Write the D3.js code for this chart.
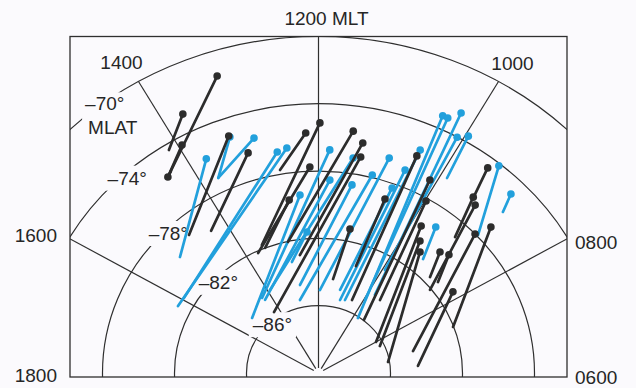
<!DOCTYPE html>
<html>
<head>
<meta charset="utf-8">
<script src="https://cdn.jsdelivr.net/npm/d3@7"></script>
<style>
  html, body { margin: 0; padding: 0; background: #fbfafd; }
  svg { display: block; }
  text { font-family: "Liberation Sans", Arial, Helvetica, sans-serif; fill: #262626; }
</style>
</head>
<body>
<svg id="chart" width="636" height="388"></svg>
<script>
// ---- grid definition ----
const ringLats = [-70, -74, -78, -82, -86];          // MLAT circles
const spokeMlts = [8, 10, 12, 14, 16];                // MLT meridians
const mltTicks = [12, 14, 10, 16, 8, 18, 6];
const mltTickLabels = ["1200 MLT", "1400", "1000", "1600", "0800", "1800", "0600"];
const latTickLabels = ["\u201370\u00b0", "\u201374\u00b0", "\u201378\u00b0", "\u201382\u00b0", "\u201386\u00b0"];

// ---- events: start point (dot) and end point, [MLT, MLAT] ----
const blackStart = [
  [13.18, -71.48], [13.95, -74.48], [14.38, -75.66], [13.74, -72.87], [13.30, -75.06],
  [13.11, -76.35], [12.19, -75.72], [11.98, -75.14], [12.15, -77.75], [12.60, -79.59],
  [11.49, -75.50], [11.32, -76.11], [11.31, -76.95], [10.69, -79.02], [11.23, -81.27],
  [10.47, -75.99], [10.11, -76.97], [9.98, -78.16], [9.79, -79.57], [9.62, -80.34],
  [9.46, -80.86], [9.12, -80.14], [8.94, -79.91], [8.90, -78.01], [8.81, -77.08],
  [8.19, -81.11], [9.49, -74.61], [9.37, -76.47], [9.26, -76.76]
];
const blackEnd = [
  [14.32, -75.53], [14.38, -75.66], [14.29, -75.47], [14.14, -74.36], [14.75, -79.09],
  [14.35, -79.66], [12.67, -77.75], [13.50, -81.77], [13.68, -82.12], [13.45, -82.00],
  [12.82, -82.03], [12.56, -82.92], [14.29, -85.62], [10.79, -83.31], [11.45, -84.36],
  [10.45, -85.28], [9.42, -85.96], [9.45, -84.48], [8.00, -86.31], [7.68, -86.23],
  [6.64, -86.08], [8.84, -81.58], [8.61, -81.44], [6.93, -84.59], [7.34, -82.04],
  [6.29, -84.46], [9.36, -76.52], [9.12, -78.92], [8.57, -82.08]
];
const blueStart = [
  [13.74, -75.83], [13.29, -75.14], [12.96, -75.59], [12.66, -76.67], [12.50, -76.52],
  [11.43, -77.08], [11.37, -78.67], [10.86, -76.64], [10.64, -78.27], [10.38, -73.23],
  [10.31, -73.23], [10.19, -72.64], [10.08, -74.01], [9.96, -73.65], [9.39, -74.13],
  [8.99, -74.92], [9.54, -79.15], [12.37, -79.37], [11.79, -78.52], [10.55, -77.02],
  [11.05, -77.86], [11.82, -76.73], [12.29, -81.60], [10.46, -75.60]
];
const blueEnd = [
  [15.21, -79.67], [13.71, -77.14], [13.71, -77.14], [15.95, -81.30], [16.20, -81.24],
  [13.91, -84.38], [12.74, -84.67], [11.94, -85.07], [11.09, -84.92], [9.74, -86.07],
  [9.95, -84.95], [9.73, -84.40], [9.93, -82.85], [9.89, -76.39], [8.85, -77.93],
  [8.87, -75.98], [9.29, -81.08], [15.23, -85.07], [14.29, -84.74], [10.97, -85.50],
  [12.89, -85.54], [14.34, -84.55], [12.84, -83.24], [10.75, -85.42]
];

// ---- layout ----
const W = 636, H = 388;
const frame = { x0: 70, y0: 36.5, x1: 567, y1: 377 };
const cx = 318.5, cy = 373;
const flatten = 0.935;                  // vertical squash of the polar view

const rScale = d3.scaleLinear().domain([-90, -70]).range([0, 360]);
const aScale = d3.scaleLinear().domain([12, 18]).range([0, Math.PI / 2]); // from noon toward dusk
function project(mlt, mlat) {
  const r = rScale(mlat), a = aScale(mlt);
  return [cx - r * Math.sin(a), cy - flatten * r * Math.cos(a)];
}

const svg = d3.select("#chart");
svg.append("rect").attr("width", W).attr("height", H).attr("fill", "#fbfafd");

svg.append("defs").append("clipPath").attr("id", "frameClip")
  .append("rect")
  .attr("x", frame.x0).attr("y", frame.y0)
  .attr("width", frame.x1 - frame.x0).attr("height", frame.y1 - frame.y0);

const gridColor = "#2f2f2f";
const grid = svg.append("g").attr("clip-path", "url(#frameClip)")
  .attr("fill", "none").attr("stroke", gridColor).attr("stroke-width", 1.2);

grid.selectAll("ellipse.ring").data(ringLats).join("ellipse")
  .attr("class", "ring")
  .attr("cx", cx).attr("cy", cy)
  .attr("rx", d => rScale(d))
  .attr("ry", d => rScale(d) * flatten);

grid.selectAll("line.spoke").data(spokeMlts).join("line")
  .attr("class", "spoke")
  .attr("x1", d => project(d, -70)[0]).attr("y1", d => project(d, -70)[1])
  .attr("x2", d => project(d, -89.7)[0]).attr("y2", d => project(d, -89.7)[1]);

svg.append("rect")
  .attr("x", frame.x0).attr("y", frame.y0)
  .attr("width", frame.x1 - frame.x0).attr("height", frame.y1 - frame.y0)
  .attr("fill", "none").attr("stroke", gridColor).attr("stroke-width", 1.3);

// ---- MLT labels ----
const fs = 19;
const mltLabelPos = {
  12: p => [p[0] + 8, 25, "middle"],
  14: p => [p[0] - 17, p[1] - 12.5, "middle"],
  10: p => [p[0] + 14, p[1] - 11.5, "middle"],
  16: () => [frame.x0 - 13, 242, "end"],
  8:  () => [frame.x1 + 8, 248.5, "start"],
  18: () => [frame.x0 - 13, 382, "end"],
  6:  () => [frame.x1 + 8, 384, "start"]
};
mltTicks.forEach((h, i) => {
  const [x, y, anchor] = mltLabelPos[h](project(h, -70));
  svg.append("text").attr("x", x).attr("y", y).attr("text-anchor", anchor)
    .attr("font-size", fs).text(mltTickLabels[i]);
});

// ---- MLAT labels, each on a cleared patch of its circle ----
const latLabels = svg.append("g");
function clearedLabel(lines, pad) {
  const g = latLabels.append("g");
  const bg = g.append("rect").attr("fill", "#fbfafd");
  const t = g.append("text").attr("font-size", fs);
  lines.forEach(l => t.append("tspan").attr("x", l.x).attr("y", l.y)
    .attr("text-anchor", l.anchor || "middle").text(l.s));
  const bb = t.node().getBBox();
  bg.attr("x", bb.x - pad).attr("y", bb.y + 2 - pad)
    .attr("width", bb.width + 2 * pad).attr("height", bb.height - 4 + 2 * pad);
}
// label offsets from the point at 14.9 MLT on each circle
const latLabelNudge = { [-74]: [7, 7], [-78]: [-1.5, 13.5], [-82]: [-1, 13.5], [-86]: [3.5, 7] };
ringLats.forEach((lat, i) => {
  if (lat === -70) {
    const p = project(14.45, lat);
    clearedLabel([
      { s: latTickLabels[i], x: p[0] - 18, y: p[1] + 7, anchor: "start" },
      { s: "MLAT", x: p[0] - 15, y: p[1] + 31, anchor: "start" }
    ], 3);
  } else {
    const p = project(14.9, lat), n = latLabelNudge[lat];
    clearedLabel([{ s: latTickLabels[i], x: p[0] + n[0], y: p[1] + n[1] }], 4);
  }
});

// ---- event tracks ----
const blue = "#22a0dc", black = "#2c2c2c";
function drawTracks(starts, ends, color) {
  const g = svg.append("g");
  const data = starts.map((s, i) => ({ a: project(s[0], s[1]), b: project(ends[i][0], ends[i][1]) }));
  g.selectAll("line").data(data).join("line")
    .attr("x1", d => d.a[0]).attr("y1", d => d.a[1])
    .attr("x2", d => d.b[0]).attr("y2", d => d.b[1])
    .attr("stroke", color).attr("stroke-width", 2.7).attr("stroke-linecap", "round");
  g.selectAll("circle").data(data).join("circle")
    .attr("cx", d => d.a[0]).attr("cy", d => d.a[1]).attr("r", 3.8)
    .attr("fill", color);
}
drawTracks(blueStart, blueEnd, blue);
drawTracks(blackStart, blackEnd, black);
</script>
</body>
</html>
